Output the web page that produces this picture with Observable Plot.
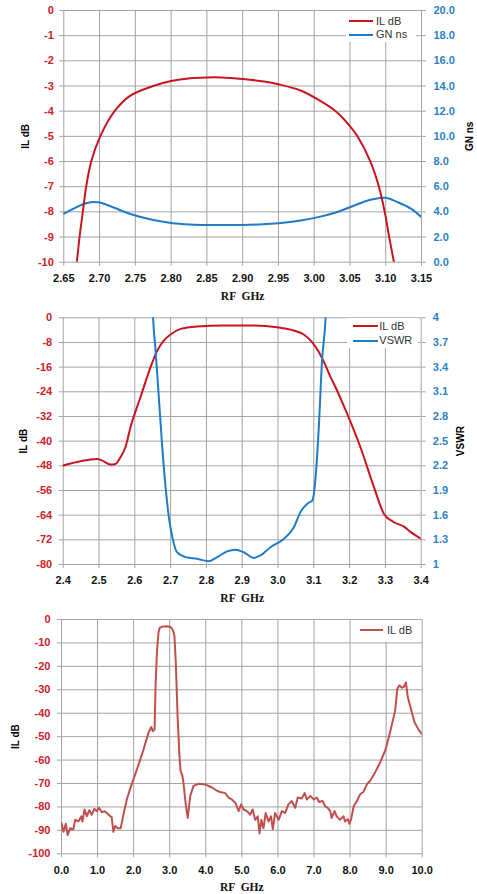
<!DOCTYPE html>
<html><head><meta charset="utf-8">
<script src="https://cdn.jsdelivr.net/npm/d3@7"></script>
<script src="https://cdn.jsdelivr.net/npm/@observablehq/plot@0.6"></script>
<style>
body{margin:0;background:#fff;}
#wrap{position:relative;width:477px;height:894px;overflow:hidden;background:#fff;}
#wrap svg{position:absolute;left:0;overflow:visible;background:transparent;}
.leg{position:absolute;background:#fff;}
.legtxt{position:absolute;font-family:"Liberation Sans",Arial,sans-serif;font-size:11px;color:#333;line-height:12px;white-space:nowrap;}
.legline{position:absolute;height:2px;}
</style></head><body><div id="wrap"></div>
<script>
// ---------- Chart 1: IL dB & GN ns vs RF GHz ----------
const c1Freq = [2.664, 2.6682, 2.672, 2.6766, 2.6813, 2.6883, 2.7009, 2.721, 2.742, 2.7748, 2.80, 2.827, 2.85, 2.87, 2.90, 2.93, 2.95, 2.981, 3.0071, 3.03, 3.05, 3.0605, 3.0786, 3.0905, 3.0986, 3.1048, 3.1115, 3.116];
const c1IL   = [-11.1, -10, -9, -8, -7, -6, -5, -4, -3.40, -3.0, -2.80, -2.69, -2.66, -2.66, -2.72, -2.82, -2.93, -3.18, -3.57, -4.0, -4.59, -5, -6, -7, -8, -9, -10, -10.7];
const c1GNFreq = [2.65, 2.6813, 2.6977, 2.7187, 2.742, 2.775, 2.80, 2.827, 2.85, 2.88, 2.91, 2.95, 2.981, 3.007, 3.03, 3.05, 3.0786, 3.10, 3.1167, 3.1357, 3.15];
const c1GN     = [3.85, 4.69, 4.77, 4.37, 3.85, 3.35, 3.12, 3.0, 2.96, 2.95, 2.97, 3.1, 3.31, 3.6, 3.95, 4.37, 4.96, 5.12, 4.77, 4.24, 3.58];
const c1XTicks = [2.65, 2.70, 2.75, 2.80, 2.85, 2.90, 2.95, 3.00, 3.05, 3.10, 3.15];
const c1YTicks = [0, -1, -2, -3, -4, -5, -6, -7, -8, -9, -10];
const c1GNTicks = [0, 2, 4, 6, 8, 10, 12, 14, 16, 18, 20];

// ---------- Chart 2: IL dB & VSWR vs RF GHz ----------
const c2Freq = [2.4, 2.448, 2.495, 2.509, 2.532, 2.546, 2.560, 2.574, 2.588, 2.616, 2.644, 2.662, 2.681, 2.70, 2.728, 2.774, 2.849, 2.923, 2.997, 3.044, 3.072, 3.095, 3.114, 3.133, 3.147, 3.156, 3.193, 3.23, 3.268, 3.296, 3.324, 3.352, 3.371, 3.4];
const c2IL   = [-47.9, -46.5, -45.8, -46.3, -47.6, -47.4, -45.2, -41.9, -35.5, -25.7, -16, -10.8, -7.4, -5.4, -3.6, -2.82, -2.5, -2.5, -3.04, -4.12, -5.4, -7.9, -11.1, -15.5, -19.3, -21.4, -31.1, -41.9, -54.9, -63.6, -66.3, -67.7, -69.5, -71.7];
const c2VFreq = [2.648, 2.651, 2.658, 2.667, 2.676, 2.686, 2.695, 2.705, 2.718, 2.742, 2.774, 2.807, 2.83, 2.858, 2.881, 2.904, 2.932, 2.951, 2.979, 3.016, 3.044, 3.063, 3.082, 3.096, 3.105, 3.114, 3.123, 3.133, 3.136];
const c2VSWR  = [4.3, 4.0, 3.6, 3.04, 2.47, 1.94, 1.58, 1.33, 1.15, 1.09, 1.07, 1.04, 1.09, 1.16, 1.18, 1.15, 1.08, 1.11, 1.21, 1.31, 1.45, 1.64, 1.74, 1.78, 2.06, 2.67, 3.48, 4.0, 4.3];
const c2XTicks = [2.4, 2.5, 2.6, 2.7, 2.8, 2.9, 3.0, 3.1, 3.2, 3.3, 3.4];
const c2YTicks = [0, -8, -16, -24, -32, -40, -48, -56, -64, -72, -80];
const c2VTicks = [1, 1.3, 1.6, 1.9, 2.2, 2.5, 2.8, 3.1, 3.4, 3.7, 4];

// ---------- Chart 3: wideband IL dB vs RF GHz ----------
const c3Freq = [0.0, 0.055, 0.12, 0.17, 0.24, 0.33, 0.38, 0.47, 0.55, 0.58, 0.64, 0.70, 0.77, 0.84, 0.91, 0.98, 1.04, 1.12, 1.19, 1.26, 1.35, 1.39, 1.44, 1.49, 1.56, 1.64, 1.69, 1.73, 1.81, 1.90, 2.0, 2.13, 2.27, 2.41, 2.49, 2.53, 2.58, 2.61, 2.65, 2.69, 2.72, 2.78, 2.92, 3.02, 3.06, 3.10, 3.13, 3.17, 3.22, 3.27, 3.30, 3.35, 3.38, 3.45, 3.50, 3.57, 3.66, 3.80, 3.98, 4.17, 4.31, 4.40, 4.54, 4.63, 4.72, 4.82, 4.91, 4.98, 5.05, 5.14, 5.23, 5.30, 5.37, 5.44, 5.49, 5.54, 5.60, 5.66, 5.74, 5.81, 5.86, 5.92, 6.02, 6.11, 6.20, 6.29, 6.38, 6.48, 6.55, 6.66, 6.74, 6.80, 6.90, 6.99, 7.08, 7.14, 7.24, 7.31, 7.38, 7.45, 7.49, 7.57, 7.63, 7.72, 7.82, 7.86, 7.94, 7.98, 8.03, 8.10, 8.19, 8.28, 8.37, 8.47, 8.56, 8.70, 8.84, 8.98, 9.07, 9.16, 9.25, 9.31, 9.37, 9.43, 9.49, 9.55, 9.60, 9.70, 9.79, 9.90, 10.0];
const c3IL   = [-86.9, -90.6, -87.2, -92, -89.1, -89.5, -85.5, -86.2, -84, -86.2, -81.1, -84, -81.4, -83.3, -80.8, -81.8, -80.4, -82.3, -81.8, -82.6, -84, -84.3, -90.6, -88.1, -89.1, -89.1, -85.5, -82.3, -76.8, -72.4, -68, -62.2, -55.7, -48.4, -45.9, -47.7, -47, -27.3, -12.8, -5.5, -3.6, -3.1, -2.9, -3.2, -3.8, -5.0, -7, -18.6, -41.9, -58, -64.5, -66.6, -69.5, -79.7, -84.7, -75.3, -71, -70.1, -70.4, -71.7, -73.1, -73.6, -74.1, -76, -76.8, -78.2, -81.8, -78.9, -81.1, -81.8, -83.3, -81.1, -85.5, -84, -91.3, -85.5, -89.1, -82.6, -86.2, -84, -89.5, -82.6, -85.5, -81.8, -82.6, -78.9, -77.5, -80.4, -76, -76.4, -74.1, -76.8, -75.3, -76.8, -76, -77.9, -77.5, -79.7, -80.4, -81.8, -84.7, -81.8, -84, -85.5, -84, -86.2, -85.2, -87.2, -85.2, -79.7, -77.5, -74.6, -73.6, -70.2, -68.8, -65.1, -60.8, -55.7, -50.6, -44.8, -38.9, -29.5, -28.1, -29.1, -28.8, -26.9, -33.1, -38.9, -44, -47, -49.1];
const c3XTicks = [0, 1, 2, 3, 4, 5, 6, 7, 8, 9, 10];
const c3YTicks = [0, -10, -20, -30, -40, -50, -60, -70, -80, -90, -100];

// ---------- styling ----------
const RED = "#c8141e", BLUE = "#1f7bc8", RED3 = "#c0504d";
const GRID = "#a3a3a3";
const LEFT_TXT = "#cc2229", RIGHT_TXT = "#2a82c6";
const TICKFONT = "'Liberation Sans', Arial, sans-serif";
const wrap = document.getElementById("wrap");

const zipRows = (xs, ys) => xs.map((x, i) => ({x, y: ys[i]}));
const hy = d => String(d); // hyphen-minus labels

function baseStyle() {
  return {fontFamily: TICKFONT, fontSize: "11px", fontWeight: "bold", overflow: "visible", background: "transparent"};
}
function place(svg, top) { svg.style.top = top + "px"; wrap.appendChild(svg); }

function titles(left, leftDx, right, rightDx, xDy) {
  const m = [
    Plot.text([left], {text: d => d, frameAnchor: "left", dx: leftDx, rotate: -90, textAnchor: "middle", lineAnchor: "middle", fontSize: 10, fontWeight: "bold", fill: "#000", fontFamily: TICKFONT}),
    Plot.text(["RF  GHz"], {text: d => d, frameAnchor: "bottom", dy: xDy, textAnchor: "middle", lineAnchor: "middle", fontSize: 11.5, fontWeight: "bold", fill: "#111", fontFamily: "'Liberation Serif', 'Times New Roman', serif"})
  ];
  if (right) m.push(Plot.text([right], {text: d => d, frameAnchor: "right", dx: rightDx, rotate: -90, textAnchor: "middle", lineAnchor: "middle", fontSize: 10, fontWeight: "bold", fill: "#000", fontFamily: TICKFONT}));
  return m;
}

function legend(box, rows) {
  const b = document.createElement("div");
  b.className = "leg";
  Object.assign(b.style, {left: box.left + "px", top: box.top + "px", width: box.width + "px", height: box.height + "px"});
  wrap.appendChild(b);
  rows.forEach(r => {
    const l = document.createElement("div");
    l.className = "legline";
    Object.assign(l.style, {left: r.x0 + "px", top: (r.y - 1) + "px", width: (r.x1 - r.x0) + "px", background: r.color});
    wrap.appendChild(l);
    const t = document.createElement("div");
    t.className = "legtxt";
    t.textContent = r.label;
    Object.assign(t.style, {left: r.tx + "px", top: (r.y - 6.5) + "px"});
    wrap.appendChild(t);
  });
}

// ---------- Chart 1 ----------
{
  const gnToY = d3.scaleLinear().domain([0, 20]).range([-10, 0]);
  const svg = Plot.plot({
    width: 477, height: 303,
    marginLeft: 63.3, marginRight: 56, marginTop: 10, marginBottom: 41.3,
    x: {domain: [2.65, 3.15], label: null},
    y: {domain: [-10, 0], label: null},
    style: baseStyle(),
    marks: [
      Plot.gridX(c1XTicks, {stroke: GRID, strokeOpacity: 1}),
      Plot.gridY(c1YTicks, {stroke: GRID, strokeOpacity: 1}),
      Plot.axisX(c1XTicks, {tickFormat: d => d.toFixed(2), tickSize: 4, tickPadding: 8, stroke: GRID, fill: "#111", label: null}),
      Plot.axisY(c1YTicks, {anchor: "left", tickFormat: hy, tickSize: 4, tickPadding: 6, stroke: GRID, fill: LEFT_TXT, label: null}),
      Plot.axisY(c1GNTicks.map(gnToY), {anchor: "right", tickFormat: d => gnToY.invert(d).toFixed(1), tickSize: 4, tickPadding: 8, stroke: GRID, fill: RIGHT_TXT, label: null}),
      Plot.line(zipRows(c1GNFreq, c1GN), {x: "x", y: d => gnToY(d.y), stroke: BLUE, strokeWidth: 2, curve: "catmull-rom", clip: true}),
      Plot.line(zipRows(c1Freq, c1IL), {x: "x", y: "y", stroke: RED, strokeWidth: 2, curve: "catmull-rom", clip: true}),
      ...titles("IL dB", -38.3, "GN ns", 48, 34)
    ]
  });
  place(svg, 0);
  legend({left: 346, top: 10.5, width: 70, height: 31}, [
    {label: "IL dB", color: RED, y: 21, x0: 349, x1: 373, tx: 376},
    {label: "GN ns", color: BLUE, y: 34.5, x0: 349, x1: 373, tx: 376}
  ]);
}

// ---------- Chart 2 ----------
{
  const vToY = d3.scaleLinear().domain([1, 4]).range([-80, 0]);
  const svg = Plot.plot({
    width: 477, height: 302,
    marginLeft: 62.7, marginRight: 56.3, marginTop: 14.3, marginBottom: 41,
    x: {domain: [2.4, 3.4], label: null},
    y: {domain: [-80, 0], label: null},
    style: baseStyle(),
    marks: [
      Plot.gridX(c2XTicks, {stroke: GRID, strokeOpacity: 1}),
      Plot.gridY(c2YTicks, {stroke: GRID, strokeOpacity: 1}),
      Plot.axisX(c2XTicks, {tickFormat: d => d.toFixed(1), tickSize: 4, tickPadding: 8, stroke: GRID, fill: "#111", label: null}),
      Plot.axisY(c2YTicks, {anchor: "left", tickFormat: hy, tickSize: 4, tickPadding: 7, stroke: GRID, fill: LEFT_TXT, label: null}),
      Plot.axisY(c2VTicks.map(vToY), {anchor: "right", tickFormat: d => String(+vToY.invert(d).toFixed(1)), tickSize: 4, tickPadding: 7.6, stroke: GRID, fill: RIGHT_TXT, label: null}),
      Plot.line(zipRows(c2Freq, c2IL), {x: "x", y: "y", stroke: RED, strokeWidth: 2, curve: "monotone-x", clip: true}),
      Plot.line(zipRows(c2VFreq, c2VSWR), {x: "x", y: d => vToY(d.y), stroke: BLUE, strokeWidth: 2, curve: "monotone-x", clip: true}),
      ...titles("IL dB", -39.4, "VSWR", 39.3, 33.7)
    ]
  });
  place(svg, 303);
  legend({left: 346.7, top: 317.8, width: 71.5, height: 30}, [
    {label: "IL dB", color: RED, y: 326, x0: 352.7, x1: 378.3, tx: 379.3},
    {label: "VSWR", color: BLUE, y: 340.5, x0: 352.7, x1: 378.3, tx: 379.3}
  ]);
}

// ---------- Chart 3 ----------
{
  const svg = Plot.plot({
    width: 477, height: 289,
    marginLeft: 61, marginRight: 55.3, marginTop: 14, marginBottom: 40.7,
    x: {domain: [0, 10], label: null},
    y: {domain: [-100, 0], label: null},
    style: baseStyle(),
    marks: [
      Plot.gridX(c3XTicks, {stroke: GRID, strokeOpacity: 1}),
      Plot.gridY(c3YTicks, {stroke: GRID, strokeOpacity: 1}),
      Plot.axisX(c3XTicks, {tickFormat: d => d.toFixed(1), tickSize: 4, tickPadding: 8, stroke: GRID, fill: "#111", label: null}),
      Plot.axisY(c3YTicks, {anchor: "left", tickFormat: hy, tickSize: 4, tickPadding: 7, stroke: GRID, fill: LEFT_TXT, label: null}),
      Plot.line(zipRows(c3Freq, c3IL), {x: "x", y: "y", stroke: RED3, strokeWidth: 2, clip: true}),
      ...titles("IL dB", -45.5, null, 0, 33.4)
    ]
  });
  place(svg, 605);
  legend({left: 358, top: 619.6, width: 60, height: 22}, [
    {label: "IL dB", color: RED3, y: 630, x0: 360, x1: 383, tx: 387}
  ]);
}
</script></body></html>
